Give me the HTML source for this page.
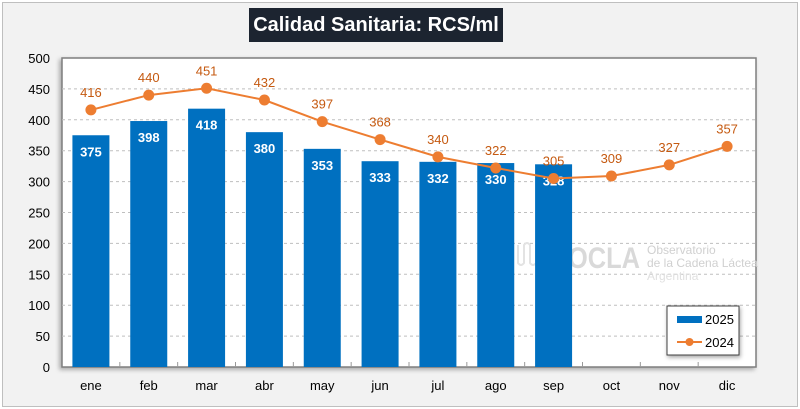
<!DOCTYPE html>
<html><head><meta charset="utf-8"><style>
body{margin:0;width:800px;height:409px;background:#fff;font-family:"Liberation Sans",sans-serif;overflow:hidden}
#frame{position:absolute;left:2px;top:2px;width:794px;height:403px;background:#f2f2f2;border:1px solid #bfbfbf}
#title{position:absolute;left:249px;top:8px;width:254px;height:34px;background:#1c2430;color:#fff;font-weight:bold;font-size:20px;line-height:34px;text-align:center;white-space:nowrap}
</style></head><body>
<div id="frame"></div>
<div id="title">Calidad Sanitaria: RCS/ml</div>
<svg id="chart" width="800" height="409" style="position:absolute;left:0;top:0"></svg>
<script>
const months=["ene","feb","mar","abr","may","jun","jul","ago","sep","oct","nov","dic"];
const values2025=[375,398,418,380,353,333,332,330,328];
const values2024=[416,440,451,432,397,368,340,322,305,309,327,357];
const yTicks=[0,50,100,150,200,250,300,350,400,450,500];
const L=62,R=756,T=58,B=367,NS="http://www.w3.org/2000/svg";
const cw=(R-L)/months.length;
const x=i=>L+cw*(i+0.5);
const y=v=>B-(v/500)*(B-T);
const svg=document.getElementById('chart');
function mk(t,a,txt){const e=document.createElementNS(NS,t);for(const k in a)e.setAttribute(k,a[k]);if(txt!==undefined)e.textContent=txt;svg.appendChild(e);return e;}
let r=mk('rect',{x:L,y:T,width:R-L,height:B-T,fill:'#fff',stroke:'#7f7f7f','stroke-width':1.5,style:'filter:drop-shadow(-2px 2px 2px rgba(0,0,0,0.3))'});

yTicks.forEach(v=>{
 if(v>0&&v<500){let g=mk('line',{x1:L,x2:R,y1:y(v),y2:y(v),stroke:'#bfbfbf','stroke-dasharray':'3,3'});}
 let t=mk('text',{x:L-12,y:y(v)+5,'text-anchor':'end','font-size':13,fill:'#000'},v);
 
});
let wl=mk('path',{d:'M518 245 v18 q3 4 6 0 v-18 q3 -4 6 0 v18 q3 4 6 0 v-18 q3 -4 6 0 v18 q3 4 6 0 v-18 q3 -4 6 0 v18 q3 4 6 0 v-18',fill:'none',stroke:'#e3e3e3','stroke-width':2});

let w=mk('text',{x:568,y:268,'font-size':30,'font-weight':'bold',fill:'#d9d9d9',textLength:72,lengthAdjust:'spacingAndGlyphs'},'OCLA');
let w1=mk('text',{x:647,y:254,'font-size':12,fill:'#d0d0d0'},'Observatorio');
let w2=mk('text',{x:647,y:267,'font-size':12,fill:'#d0d0d0'},'de la Cadena Láctea');
let w3=mk('text',{x:647,y:280,'font-size':12,fill:'#e0e0e0'},'Argentina');
months.forEach((m,i)=>{
 let t=mk('text',{x:x(i),y:390,'text-anchor':'middle','font-size':13,fill:'#000'},m);
 
 if(i>0){let k=mk('line',{x1:L+cw*i,x2:L+cw*i,y1:B,y2:B-5,stroke:'#999'});}
});
values2025.forEach((v,i)=>{
 let b=mk('rect',{x:x(i)-18.5,y:y(v),width:37,height:B-y(v),fill:'#0070c0'});
 
 let t=mk('text',{x:x(i),y:y(v)+21,'text-anchor':'middle','font-size':13,'font-weight':'bold',fill:'#fff'},v);
 
});
let pl=mk('polyline',{points:values2024.map((v,i)=>x(i)+','+y(v)).join(' '),fill:'none',stroke:'#ed7d31','stroke-width':2});

values2024.forEach((v,i)=>{
 let c=mk('circle',{cx:x(i),cy:y(v),r:5.5,fill:'#ed7d31'});
 
 let t=mk('text',{x:x(i),y:y(v)-13,'text-anchor':'middle','font-size':13,fill:'#c55a11'},v);
 
});
let lg=mk('rect',{x:667,y:306,width:72,height:49,fill:'#fff',stroke:'#404040',style:'filter:drop-shadow(1px 2px 2px rgba(0,0,0,0.35))'});

let l1=mk('rect',{x:677,y:316,width:25,height:7,fill:'#0070c0'});
let l1t=mk('text',{x:705,y:324,'font-size':13,fill:'#000'},'2025');
let l2=mk('line',{x1:677,x2:702,y1:342,y2:342,stroke:'#ed7d31','stroke-width':2});
let l2c=mk('circle',{cx:689.5,cy:342,r:4,fill:'#ed7d31'});
let l2t=mk('text',{x:705,y:347,'font-size':13,fill:'#000'},'2024');
</script>
</body></html>
